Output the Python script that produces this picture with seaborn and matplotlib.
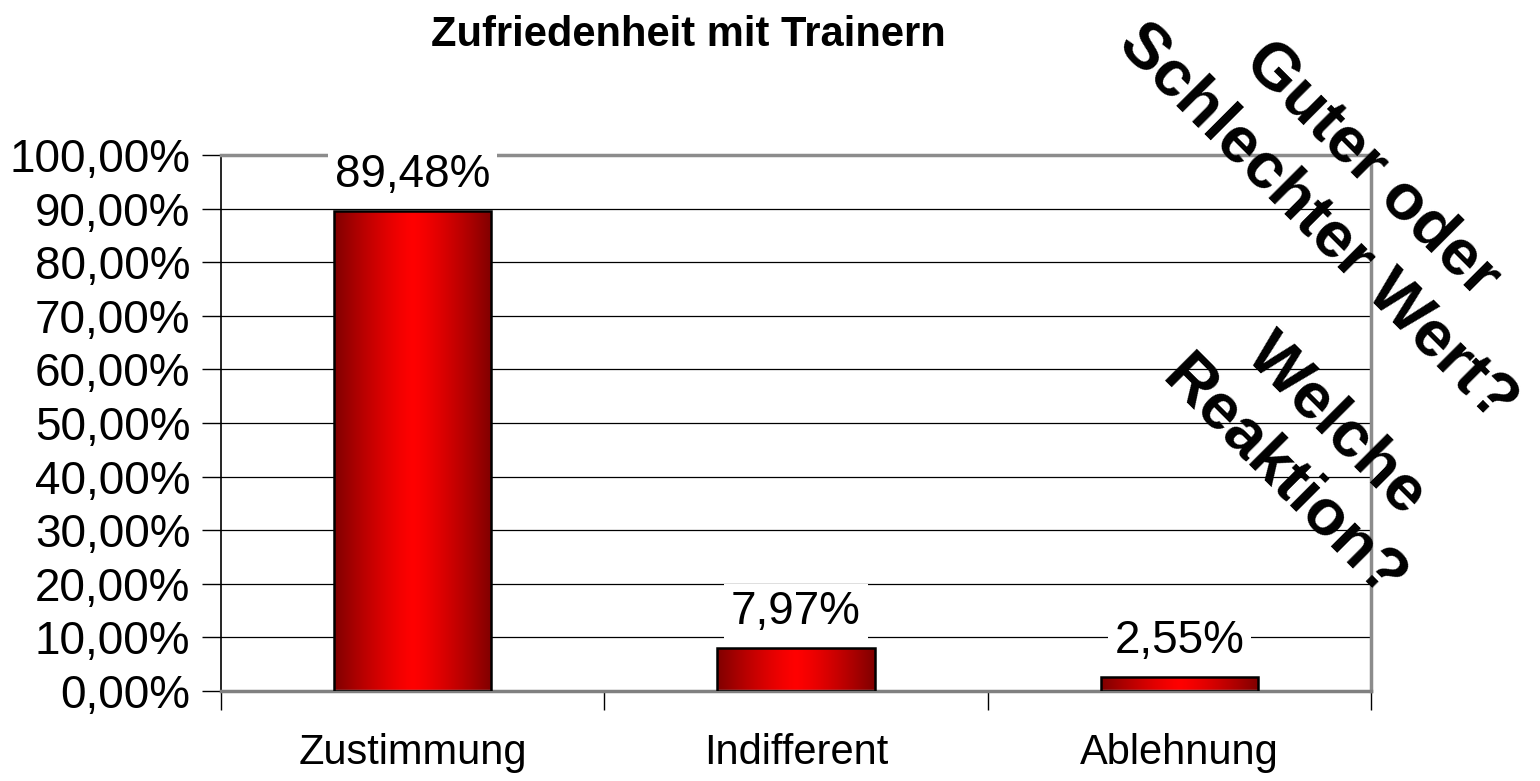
import numpy as np
import pandas as pd
import seaborn as sns
import matplotlib.pyplot as plt
from matplotlib.ticker import FixedLocator, FuncFormatter

categories = ["Zustimmung", "Indifferent", "Ablehnung"]
values = [89.48, 7.97, 2.55]
yticks = [0, 10, 20, 30, 40, 50, 60, 70, 80, 90, 100]

sns.set_theme(style="white")
plt.rcParams["font.family"] = ["Liberation Sans", "DejaVu Sans"]
plt.rcParams["text.color"] = "black"
plt.rcParams["xtick.color"] = "black"
plt.rcParams["ytick.color"] = "black"

df = pd.DataFrame({"Kategorie": categories, "Anteil": values})

fig = plt.figure(figsize=(15.4, 7.81), dpi=100)
ax = fig.add_axes([221 / 1540, 1 - 691 / 781, (1371 - 221) / 1540, (691 - 155) / 781])

sns.barplot(data=df, x="Kategorie", y="Anteil", width=0.41, color="red",
            edgecolor="black", linewidth=1.8, ax=ax, zorder=3)

# horizontal red gradient inside each bar
t = np.linspace(0, 1, 256)
shade = 1 - 0.5 * np.abs(2 * t - 1) ** 1.3
grad = np.zeros((1, 256, 3))
grad[0, :, 0] = shade
for p in ax.patches:
    x0, y0 = p.get_x(), p.get_y()
    w, h = p.get_width(), p.get_height()
    p.set_facecolor("none")
    im = ax.imshow(grad, extent=[x0, x0 + w, y0, y0 + h], aspect="auto",
                   zorder=2.5, interpolation="bilinear")
    im.set_clip_path(p)

ax.set_xlim(-0.5, 2.5)
ax.set_ylim(0, 100)

ax.yaxis.set_major_locator(FixedLocator(yticks))
ax.yaxis.set_major_formatter(FuncFormatter(lambda v, pos: f"{v:.2f}%".replace(".", ",")))
ax.tick_params(axis="y", labelsize=33, length=14, width=1, left=True, pad=8)

ax.set_xticks([0, 1, 2])
ax.set_xticklabels(categories)
ax.tick_params(axis="x", which="major", labelsize=30, length=0, pad=30)
ax.xaxis.set_minor_locator(FixedLocator([-0.5, 0.5, 1.5, 2.5]))
ax.tick_params(axis="x", which="minor", length=14, width=1, bottom=True)

ax.grid(axis="y", color="black", linewidth=0.9, zorder=0)
ax.set_axisbelow(True)
ax.set_xlabel("")
ax.set_ylabel("")

ax.spines["left"].set_color("black")
ax.spines["left"].set_linewidth(1.2)
ax.spines["bottom"].set_color("#808080")
ax.spines["bottom"].set_linewidth(2.5)
ax.spines["top"].set_color("#8c8c8c")
ax.spines["top"].set_linewidth(2.5)
ax.spines["right"].set_color("#8c8c8c")
ax.spines["right"].set_linewidth(2.5)

for i, v in enumerate(values):
    ax.annotate(f"{v:.2f}%".replace(".", ","), (i, v), xytext=(0, 10),
                textcoords="offset points", ha="center", va="bottom", fontsize=33,
                bbox=dict(boxstyle="square,pad=0.15", fc="white", ec="none"), zorder=4)

fig.text(688 / 1540, 1 - 35 / 781, "Zufriedenheit mit Trainern", ha="center",
         va="center", fontsize=30, fontweight="bold")

fig.text(1345 / 1540, 1 - 196 / 781, "Guter oder\nSchlechter Wert?", ha="center",
         va="center", fontsize=47, fontweight="bold", rotation=-45,
         multialignment="center", linespacing=1.35)
fig.text(1310 / 1540, 1 - 452 / 781, "Welche\nReaktion?", ha="center",
         va="center", fontsize=47, fontweight="bold", rotation=-45,
         multialignment="center", linespacing=1.35)

fig.savefig("out.png", dpi=100)
